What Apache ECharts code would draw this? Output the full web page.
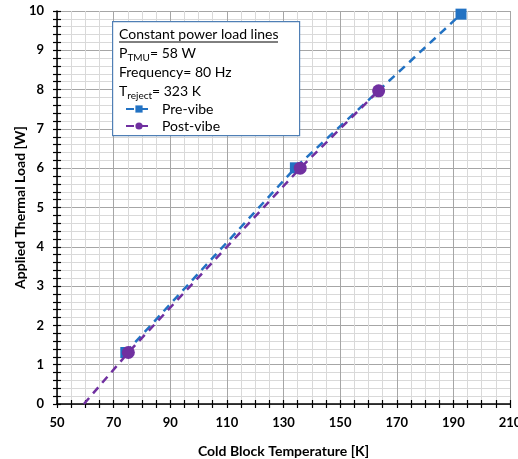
<!DOCTYPE html>
<html>
<head>
<meta charset="utf-8">
<script src="https://cdn.jsdelivr.net/npm/echarts@6/dist/echarts.min.js"></script>
<style>
  html, body { margin: 0; padding: 0; background: #fff; }
  #chart { width: 518px; height: 459px; }
</style>
</head>
<body>
<div id="chart"></div>
<script>
// 数据：从图上读取
const preVibe = [[74.3, 1.31], [134.2, 6.01], [192.7, 9.92]];
const postVibe = [[59.5, 0], [75.2, 1.31], [135.9, 6.0], [163.6, 7.97]];
const xTicks = { min: 50, max: 210, step: 5, labelStep: 20 };
const yTicks = { min: 0, max: 10, step: 0.2, labelStep: 1 };
const boxLines = ['Constant power load lines', 'P{sub|TMU}= 58 W', 'Frequency= 80 Hz', 'T{sub|reject}= 323 K'];

const FONT = 'Lato, "Noto Sans", sans-serif';
const dark = '#a6a6a6', light = '#d9d9d9';

function cycle (n) {
  let arr = [dark];
  for (let i = 1; i < n; i++) arr.push(light);
  return arr;
}

const chart = echarts.init(document.getElementById('chart'));

const baseAxis = (t, nSub) => ({
  type: 'value',
  min: t.min,
  max: t.max,
  interval: t.step,
  axisLine: { show: true, onZero: false, lineStyle: { color: '#000', width: 1.5 } },
  axisTick: { show: true, length: 4, lineStyle: { color: '#000', width: 1.2 } },
  splitLine: { show: true, lineStyle: { color: cycle(nSub), width: 1 } },
  axisLabel: {
    fontFamily: FONT, fontWeight: 'bold', fontSize: 13, color: '#000',
    formatter: function (v) {
      const k = (v - t.min) / t.labelStep;
      return Math.abs(k - Math.round(k)) < 1e-6 ? String(Math.round(v)) : '';
    }
  }
});

// 反向刻度（让刻度线穿过坐标轴）
const innerAxis = (t, pos) => ({
  type: 'value', min: t.min, max: t.max, interval: t.step, position: pos,
  axisLine: { show: false },
  axisTick: { show: true, inside: true, length: 4, lineStyle: { color: '#000', width: 1.2 } },
  axisLabel: { show: false },
  splitLine: { show: false }
});

const xMain = Object.assign(baseAxis(xTicks, 4), {
  position: 'bottom',
  name: 'Cold Block Temperature [K]',
  nameLocation: 'middle',
  nameGap: 40,
  nameTextStyle: { fontFamily: FONT, fontWeight: 'bold', fontSize: 14, color: '#000' }
});
xMain.axisLabel.margin = 12;

const yMain = Object.assign(baseAxis(yTicks, 5), {
  position: 'left',
  name: 'Applied Thermal Load [W]',
  nameLocation: 'middle',
  nameGap: 30,
  nameMoveOverlap: false,
  nameTextStyle: { fontFamily: FONT, fontWeight: 'bold', fontSize: 14, color: '#000' }
});
yMain.axisLabel.margin = 13;

const option = {
  animation: false,
  backgroundColor: '#fff',
  grid: { left: 57, right: 8, top: 11, bottom: 55, containLabel: false, outerBoundsMode: 'none' },
  xAxis: [xMain, innerAxis(xTicks, 'bottom')],
  yAxis: [yMain, innerAxis(yTicks, 'left')],
  legend: {
    orient: 'vertical',
    left: 120,
    top: 97,
    z: 30,
    itemWidth: 26,
    itemHeight: 9,
    itemGap: 3,
    textStyle: { fontFamily: FONT, fontSize: 14, color: '#000', padding: [0, 0, 0, 5] },
    data: ['Pre-vibe', 'Post-vibe']
  },
  graphic: [
    {
      type: 'rect', left: 112, top: 21, z: 10,
      shape: { width: 187, height: 114 },
      style: { fill: '#fff', stroke: '#4f7fb5', lineWidth: 1.2 }
    },
    {
      type: 'text', left: 119, top: 27, z: 11,
      style: { text: boxLines[0], font: '14px ' + FONT, fill: '#000' }
    },
    {
      type: 'line', z: 11,
      shape: { x1: 119, y1: 42, x2: 278, y2: 42 },
      style: { stroke: '#000', lineWidth: 1 }
    },
    {
      type: 'text', left: 119, top: 44, z: 11,
      style: {
        text: boxLines.slice(1).join('\n'),
        font: '14px ' + FONT, fill: '#000', lineHeight: 19,
        rich: { sub: { fontSize: 10, verticalAlign: 'bottom', padding: [7, 0, 0, 0], fontFamily: FONT } }
      }
    }
  ],
  series: [
    {
      name: 'Pre-vibe',
      type: 'line',
      data: preVibe,
      symbol: 'rect',
      symbolSize: 11,
      z: 3,
      itemStyle: { color: '#2272c3' },
      lineStyle: { color: '#2272c3', width: 2.5, type: [8, 6] }
    },
    {
      name: 'Post-vibe',
      type: 'line',
      data: postVibe.map((p, i) => i === 0 ? { value: p, symbol: 'none' } : p),
      symbol: 'circle',
      symbolSize: 13,
      z: 4,
      itemStyle: { color: '#7030a0' },
      lineStyle: { color: '#7030a0', width: 2.5, type: [8, 6] }
    }
  ]
};

chart.setOption(option);
</script>
</body>
</html>
